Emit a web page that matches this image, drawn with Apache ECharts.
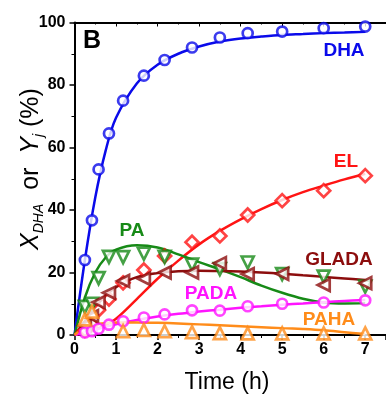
<!DOCTYPE html>
<html>
<head>
<meta charset="utf-8">
<script src="https://cdn.jsdelivr.net/npm/echarts@6/dist/echarts.min.js"></script>
<style>
    html, body { margin: 0; padding: 0; background: #fff; }
    #chart { width: 386px; height: 396px; }
</style>
</head>
<body>
<div id="chart"></div>
<script>
// sampling times of the measured points (h)
const timePts = [0.25, 0.42, 0.58, 0.83, 1.17, 1.67, 2.17, 2.83, 3.5, 4.17, 5, 6, 7];
const dhaPts = [24, 36.7, 53, 64.5, 75, 83, 88, 92, 95.2, 96.6, 97.1, 98.2, 98.7];
const elPts = [1.5, 3.5, 8, 11.5, 16.7, 20.8, 25.3, 29.7, 31.7, 38.4, 43, 46.2, 51];
const paPts = [9, 10, 18.2, 25, 24.9, 26, 25, 22.5, 21.1, 23.2, 19.5, 18.7, 15.5];
const gladaPts = [3, 6, 10.5, 13.5, 17.3, 18, 20, 20, 23, 19.5, 19.6, 16, 16.6];
const padaPts = [0.8, 1.2, 2, 3.3, 4.4, 5.6, 6.6, 7.9, 7.8, 9.2, 10, 10.4, 11.1];
const pahaPts = [5, 7.5, null, null, 1.2, 1.6, 1.2, 0.9, 0.6, 0.5, 0.5, 0.5, 0.5];

// model curves, read at these times
const fitT = [0, 0.25, 0.5, 0.75, 1, 1.5, 2, 2.5, 3, 3.5, 4, 4.5, 5, 5.5, 6, 6.5, 7];
const dhaFit = [0, 24, 44, 59, 69.5, 80.5, 86.5, 90, 92.3, 93.9, 94.9, 95.5, 96, 96.3, 96.6, 96.8, 97];
const elFit = [0, 0.8, 1.8, 3.2, 5.2, 11.5, 18, 23.8, 29, 33.3, 37, 40.3, 43.2, 45.7, 47.8, 49.8, 51.6];
const paFit = [0, 12, 20, 24.8, 27.3, 28.7, 28, 25.8, 23.3, 21, 18.5, 15.8, 13.5, 11.6, 10.4, 10.1, 10.2];
const gladaFit = [0, 4.5, 9, 12.5, 15.3, 18.5, 19.8, 20.4, 20.6, 20.5, 20.3, 20, 19.6, 19.1, 18.6, 18.1, 17.6];
const padaFit = [0, 0.8, 1.7, 2.6, 3.4, 4.8, 5.9, 6.8, 7.5, 8.1, 8.7, 9.2, 9.7, 10.1, 10.5, 10.9, 11.2];
const pahaFit = [0, 2.5, 3.4, 3.8, 4, 4, 3.9, 3.7, 3.4, 3.1, 2.8, 2.5, 2.2, 1.9, 1.5, 0.9, 0.3];

const xTicks = [0, 1, 2, 3, 4, 5, 6, 7];
const yTicks = [0, 20, 40, 60, 80, 100];

const FONT = "'Liberation Sans', Arial, sans-serif";

const pairs = (xs, ys) => xs.map((x, i) => [x, ys[i]]).filter(p => p[1] !== null);

const species = [
    { name: "DHA", color: "#0a0aea", pts: dhaPts, fit: dhaFit, symbol: "circle", size: 10, rotate: 0 },
    { name: "EL", color: "#ff1414", pts: elPts, fit: elFit, symbol: "diamond", size: 13, rotate: 0 },
    { name: "PA", color: "#178a17", pts: paPts, fit: paFit, symbol: "triangle", size: 12, rotate: 180 },
    { name: "GLADA", color: "#8c0d0d", pts: gladaPts, fit: gladaFit, symbol: "triangle", size: 12, rotate: 90 },
    { name: "PADA", color: "#ff14ff", pts: padaPts, fit: padaFit, symbol: "circle", size: 10, rotate: 0 },
    { name: "PAHA", color: "#ff8c1a", pts: pahaPts, fit: pahaFit, symbol: "triangle", size: 12, rotate: 0 }
];

const series = [];
species.forEach(s => {
    series.push({
        name: s.name + " fit",
        type: "line",
        data: pairs(fitT, s.fit),
        smooth: 0.35,
        showSymbol: false,
        z: 2,
        lineStyle: { color: s.color, width: 2.5 },
        silent: true
    });
});
species.forEach(s => {
    series.push({
        name: s.name,
        type: "scatter",
        data: pairs(timePts, s.pts),
        symbol: s.symbol,
        symbolSize: s.size,
        symbolRotate: s.rotate,
        z: 3,
        itemStyle: { color: "#fff", borderColor: s.color, borderWidth: 2.7 }
    });
});

const labels = [
    { text: "DHA", x: 344, y: 51, color: "#0a0aea" },
    { text: "EL", x: 346, y: 162, color: "#ff1414" },
    { text: "PA", x: 132, y: 231, color: "#178a17" },
    { text: "GLADA", x: 339, y: 260, color: "#8c0d0d" },
    { text: "PADA", x: 211, y: 294, color: "#ff14ff" },
    { text: "PAHA", x: 329, y: 320, color: "#ff8c1a" }
];

const graphic = labels.map(l => ({
    type: "text",
    x: l.x,
    y: l.y,
    z: 10,
    style: {
        text: l.text,
        fill: l.color,
        font: "bold 19px " + FONT,
        align: "center",
        verticalAlign: "middle"
    }
}));

graphic.push({
    type: "text",
    x: 92,
    y: 41,
    z: 10,
    style: { text: "B", fill: "#000", font: "bold 25px " + FONT, align: "center", verticalAlign: "middle" }
});
graphic.push({
    type: "text",
    x: 227,
    y: 383,
    style: { text: "Time (h)", fill: "#000", font: "23px " + FONT, align: "center", verticalAlign: "middle" }
});
graphic.push({
    type: "text",
    x: 31,
    y: 169,
    rotation: Math.PI / 2,
    style: {
        text: "{it|X}{sub|DHA}{n|  or  }{it|Y}{sub|j}{n| (%)}",
        align: "center",
        verticalAlign: "middle",
        fill: "#000",
        rich: {
            it: { fontFamily: FONT, fontSize: 25, fontStyle: "italic", lineHeight: 30, fill: "#000" },
            n: { fontFamily: FONT, fontSize: 25, lineHeight: 30, fill: "#000" },
            sub: { fontFamily: FONT, fontSize: 14, fontStyle: "italic", lineHeight: 14, verticalAlign: "bottom", fill: "#000" }
        }
    }
});

const axisLine = { show: true, lineStyle: { color: "#000", width: 2 } };
const labelStyle = { color: "#000", fontFamily: FONT, fontWeight: "bold", fontSize: 16 };

const option = {
    animation: false,
    grid: { left: 74.5, top: 22.5, width: 312.5, bottom: 61 },
    xAxis: [
        {
            type: "value",
            min: 0,
            max: 7.5,
            interval: 1,
            axisLine: axisLine,
            axisTick: { show: true, inside: false, length: 5, lineStyle: { color: "#000", width: 1.5 } },
            minorTick: { show: true, splitNumber: 2, length: 3, lineStyle: { color: "#000", width: 1 } },
            axisLabel: Object.assign({ margin: 7, showMaxLabel: false,
                formatter: v => (xTicks.indexOf(v) >= 0 ? String(v) : "") }, labelStyle),
            splitLine: { show: false }
        },
        {
            type: "value",
            position: "top",
            min: 0,
            max: 7.5,
            interval: 1,
            axisLine: axisLine,
            axisTick: { show: true, inside: true, length: 4, lineStyle: { color: "#000", width: 1 } },
            minorTick: { show: true, splitNumber: 2, length: 2, lineStyle: { color: "#000", width: 1 } },
            axisLabel: { show: false },
            splitLine: { show: false }
        }
    ],
    yAxis: {
        type: "value",
        min: 0,
        max: 100,
        interval: 20,
        axisLine: axisLine,
        axisTick: { show: true, inside: false, length: 5, lineStyle: { color: "#000", width: 1.5 } },
        minorTick: { show: true, splitNumber: 2, length: 3, lineStyle: { color: "#000", width: 1 } },
        axisLabel: Object.assign({ margin: 9,
            formatter: v => (yTicks.indexOf(v) >= 0 ? String(v) : "") }, labelStyle),
        splitLine: { show: false }
    },
    series: series,
    graphic: graphic
};

const myChart = echarts.init(document.getElementById("chart"));
myChart.setOption(option);
</script>
</body>
</html>
